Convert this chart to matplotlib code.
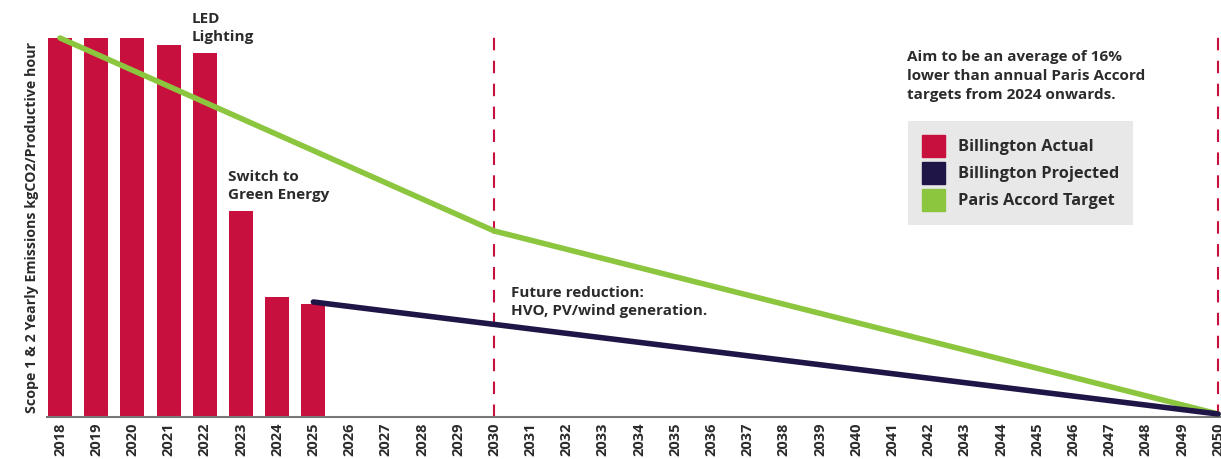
import matplotlib.pyplot as plt
from matplotlib.patches import Patch

years = list(range(2018, 2051))
actual_years = [2018, 2019, 2020, 2021, 2022, 2023, 2024, 2025]
actual_values = [379, 379, 379, 372, 364, 206, 120, 113]
target_years = [2018, 2030, 2050]
target_values = [379, 186, 3]
projected_years = [2025, 2050]
projected_values = [115, 3]
marker_years = [2030, 2050]

RED = "#c8103e"
NAVY = "#1f1546"
GREEN = "#8cc63f"
TXT = "#2b2b2b"

plt.rcParams['font.family'] = ['Open Sans', 'DejaVu Sans']

fig = plt.figure(figsize=(12.21, 4.59), dpi=100)
ax = fig.add_axes([47 / 1221, 1 - 417 / 459, (1221 - 47) / 1221, (417 - 20) / 459])

pos = {y: i for i, y in enumerate(years)}

ax.bar([pos[y] for y in actual_years], actual_values, width=0.66, color=RED, zorder=2)
ax.plot([pos[y] for y in target_years], target_values, color=GREEN, lw=4, zorder=3,
        solid_capstyle="round")
ax.plot([pos[y] for y in projected_years], projected_values, color=NAVY, lw=4, zorder=4,
        solid_capstyle="round")
for y in marker_years:
    ax.plot([pos[y], pos[y]], [0, 380], color=RED, lw=1.5, ls=(0, (6, 5)), zorder=1)

ax.set_xlim(-0.36, 32.08)
ax.set_ylim(0, 397)
ax.set_xticks(range(len(years)))
ax.set_xticklabels([str(y) for y in years], rotation=90, fontsize=10.5, fontweight="bold", color=TXT)
ax.tick_params(axis="x", length=0, pad=4)
ax.set_yticks([])
for s in ["top", "right", "left"]:
    ax.spines[s].set_visible(False)
ax.spines["bottom"].set_color("#777777")
ax.spines["bottom"].set_linewidth(1.5)
ax.set_ylabel("Scope 1 & 2 Yearly Emissions kgCO2/Productive hour", fontsize=10.3,
              fontweight="bold", color=TXT)
ax.yaxis.set_label_coords(-0.0068, 0.478)

ax.text(3.63, 397 - 12 + 20, "LED\nLighting", fontsize=11, fontweight="bold", color=TXT,
        va="top", ha="left", linespacing=1.4)
ax.text(4.65, 417 - 170, "Switch to\nGreen Energy", fontsize=11, fontweight="bold", color=TXT,
        va="top", ha="left", linespacing=1.4)
ax.text(12.45, 417 - 286, "Future reduction:\nHVO, PV/wind generation.", fontsize=11,
        fontweight="bold", color=TXT, va="top", ha="left", linespacing=1.4)
ax.text(23.4, 417 - 50, "Aim to be an average of 16%\nlower than annual Paris Accord\ntargets from 2024 onwards.",
        fontsize=11, fontweight="bold", color=TXT, va="top", ha="left", linespacing=1.45)

handles = [Patch(color=RED, label="Billington Actual"),
           Patch(color=NAVY, label="Billington Projected"),
           Patch(color=GREEN, label="Paris Accord Target")]
leg = fig.legend(handles=handles, loc="upper left", bbox_to_anchor=(908 / 1221, 1 - 121 / 459),
                 frameon=True, facecolor="#e8e8e8", edgecolor="none", fancybox=False,
                 prop={"size": 11.8, "weight": "bold"}, handlelength=1.4, handleheight=1.7,
                 labelspacing=0.3, borderpad=0.85, handletextpad=0.8, borderaxespad=0,
                 framealpha=1)
leg.get_frame().set_boxstyle("square", pad=0)
for t in leg.get_texts():
    t.set_color(TXT)

fig.savefig("out.png", dpi=100)
